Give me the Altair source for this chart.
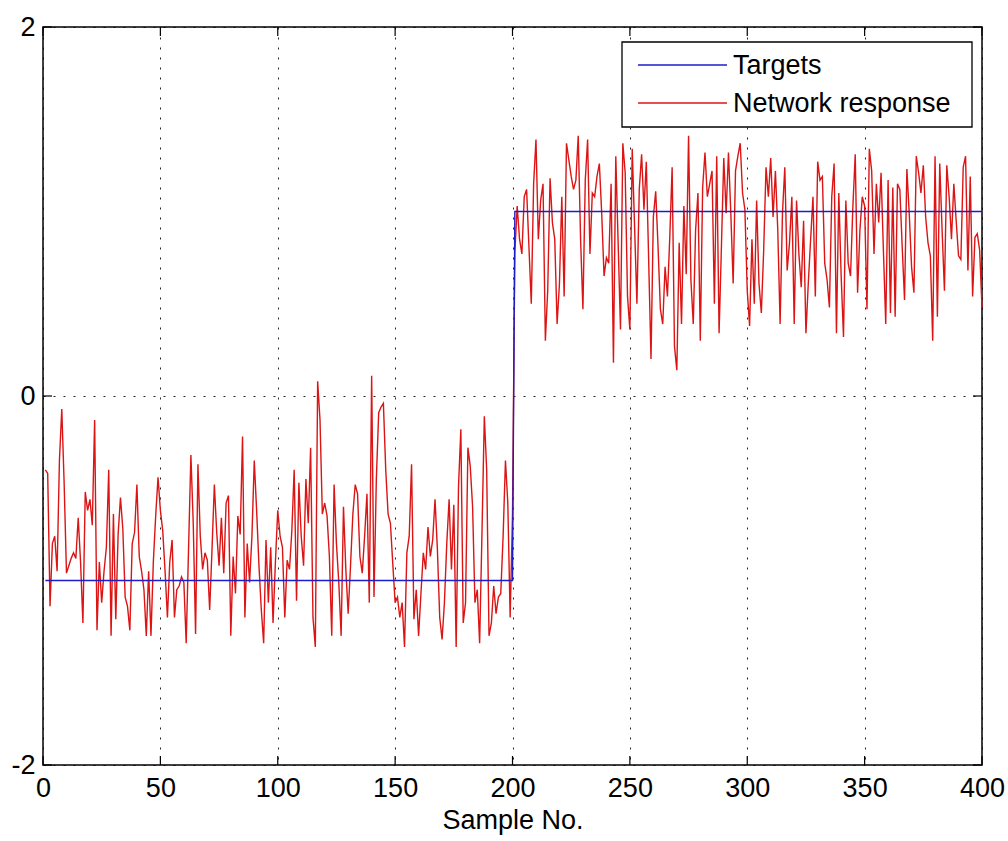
import altair as alt
import pandas as pd

# Network response, 50 samples per block
resp_001_050 = [-0.40, -0.42, -1.14, -0.80, -0.76, -0.95, -0.35, -0.07, -0.47, -0.96,
                -0.92, -0.88, -0.85, -0.88, -0.66, -0.90, -1.23, -0.52, -0.62, -0.56,
                -0.70, -0.13, -1.27, -0.90, -1.12, -0.95, -0.82, -0.40, -1.30, -0.64,
                -1.21, -0.75, -0.55, -0.72, -1.09, -1.14, -1.27, -0.80, -0.74, -0.48,
                -0.87, -0.95, -1.05, -1.30, -0.95, -1.30, -0.90, -0.65, -0.44, -0.62]
resp_051_100 = [-0.73, -0.95, -1.20, -0.90, -0.78, -1.20, -1.05, -1.03, -0.98, -1.01,
                -1.34, -0.83, -0.32, -0.69, -1.29, -0.37, -0.76, -0.94, -0.85, -0.89,
                -1.16, -0.83, -0.48, -0.74, -0.92, -0.66, -0.96, -0.58, -0.54, -1.30,
                -0.87, -1.07, -0.65, -0.75, -0.22, -1.20, -0.80, -1.01, -0.76, -0.35,
                -0.62, -0.92, -1.16, -1.34, -0.78, -1.12, -0.82, -1.23, -0.90, -0.62]
resp_101_150 = [-0.76, -0.82, -1.20, -0.89, -0.94, -0.73, -0.40, -1.11, -0.47, -0.76,
                -0.92, -0.45, -0.69, -0.28, -1.20, -1.36, 0.08, -0.13, -0.64, -0.58,
                -0.65, -0.87, -1.30, -0.48, -0.80, -1.01, -1.30, -0.60, -0.94, -1.18,
                -0.92, -0.64, -0.48, -0.53, -0.87, -0.96, -0.76, -0.53, -1.12, 0.11,
                -1.09, -0.45, -0.09, -0.06, -0.04, -0.40, -0.64, -0.69, -0.91, -1.12]
resp_151_200 = [-1.09, -1.20, -1.12, -1.36, -0.85, -0.76, -0.37, -1.21, -1.05, -1.30,
                -1.07, -0.85, -0.94, -0.71, -0.87, -0.78, -0.56, -0.83, -1.20, -1.32,
                -1.12, -0.80, -0.56, -0.94, -0.59, -1.36, -0.49, -0.18, -1.23, -1.12,
                -0.28, -0.38, -0.60, -1.12, -1.05, -1.34, -0.74, -0.11, -0.40, -1.30,
                -1.23, -1.03, -1.18, -1.09, -1.07, -0.76, -0.35, -0.58, -1.20, -0.64]
resp_201_250 = [0.78, 1.03, 0.85, 0.77, 1.08, 1.12, 0.81, 0.50, 1.15, 1.39,
                0.85, 1.06, 1.15, 0.30, 0.57, 1.18, 0.94, 0.85, 0.39, 0.61,
                1.08, 0.54, 1.37, 1.28, 1.19, 1.12, 1.17, 1.41, 0.85, 0.47,
                1.17, 1.39, 0.77, 1.10, 1.08, 1.19, 1.26, 0.99, 0.65, 0.75,
                0.72, 1.15, 0.18, 1.30, 0.83, 0.36, 1.37, 1.21, 0.54, 0.36]
resp_251_300 = [1.34, 0.92, 0.50, 1.12, 1.31, 1.01, 1.27, 0.74, 0.20, 0.97,
                1.11, 0.81, 0.47, 0.39, 0.70, 0.54, 0.86, 1.24, 0.27, 0.14,
                0.83, 0.39, 1.03, 0.66, 1.41, 0.63, 0.39, 0.90, 1.10, 0.30,
                1.13, 1.32, 1.08, 1.15, 1.22, 0.50, 1.30, 0.34, 0.81, 1.29,
                0.99, 1.32, 0.99, 0.61, 1.22, 1.30, 1.37, 1.10, 1.01, 0.57]
resp_301_350 = [0.38, 0.85, 0.50, 1.06, 0.61, 0.45, 0.79, 1.24, 1.08, 1.29,
                0.97, 1.22, 0.90, 0.39, 0.99, 1.24, 0.68, 0.83, 1.08, 0.39,
                1.06, 0.77, 0.59, 0.95, 0.34, 0.61, 0.85, 1.08, 0.54, 1.27,
                1.17, 1.19, 0.72, 0.63, 0.48, 1.08, 1.26, 0.34, 1.10, 0.65,
                0.32, 1.06, 0.72, 0.65, 1.03, 1.31, 0.56, 0.90, 1.08, 1.03]
resp_351_400 = [0.47, 1.34, 1.22, 0.77, 1.15, 0.94, 1.21, 0.79, 0.39, 1.17,
                0.45, 1.13, 0.43, 1.15, 1.12, 0.81, 0.52, 1.23, 0.99, 0.70,
                0.56, 1.30, 1.21, 1.10, 1.25, 0.97, 0.83, 0.76, 0.30, 1.30,
                0.43, 1.26, 0.90, 0.57, 1.25, 1.08, 0.85, 1.15, 0.95, 0.76,
                0.74, 1.24, 1.30, 0.68, 1.19, 0.54, 0.86, 0.88, 0.79, 0.48]

target_class_a = [-1.0] * 200
target_class_b = [1.0] * 200

x_ticks = [0, 50, 100, 150, 200, 250, 300, 350, 400]
y_ticks = [-2, 0, 2]
series_names = ["Targets", "Network response"]
series_colors = ["#1c1cc8", "#dc1414"]

response = (resp_001_050 + resp_051_100 + resp_101_150 + resp_151_200 +
            resp_201_250 + resp_251_300 + resp_301_350 + resp_351_400)
targets = target_class_a + target_class_b
samples = list(range(1, len(response) + 1))

df = pd.concat([
    pd.DataFrame({"sample": samples, "value": targets, "series": "Targets"}),
    pd.DataFrame({"sample": samples, "value": response, "series": "Network response"}),
])

W, H = 939, 738
FONT = "Liberation Sans"

xscale = alt.Scale(domain=[0, 400], nice=False, zero=False)
yscale = alt.Scale(domain=[-2, 2], nice=False, zero=False)
cscale = alt.Scale(domain=series_names, range=series_colors)

lines = alt.Chart(df).mark_line(strokeWidth=1.4).encode(
    x=alt.X("sample:Q", scale=xscale, title="Sample No.",
            axis=alt.Axis(values=x_ticks, grid=True, ticks=False, labelPadding=10,
                          titlePadding=6, labelFlush=False, format="d")),
    y=alt.Y("value:Q", scale=yscale, title=None,
            axis=alt.Axis(values=y_ticks, grid=True, ticks=False, labelPadding=8,
                          labelExpr="'' + datum.value")),
    color=alt.Color("series:N", scale=cscale, legend=None),
    detail="series:N",
)

red = lines.transform_filter(alt.datum.series == "Network response")
blue = lines.transform_filter(alt.datum.series == "Targets")

# inward MATLAB-style ticks
xt = pd.DataFrame({"t": x_ticks})
yt = pd.DataFrame({"t": y_ticks})
TL = 9
xb = alt.Chart(xt).mark_rule(color="black", strokeWidth=1.2).encode(
    x=alt.X("t:Q", scale=xscale), y=alt.value(H), y2=alt.value(H - TL))
xtop = alt.Chart(xt).mark_rule(color="black", strokeWidth=1.2).encode(
    x=alt.X("t:Q", scale=xscale), y=alt.value(0), y2=alt.value(TL))
yl = alt.Chart(yt).mark_rule(color="black", strokeWidth=1.2).encode(
    y=alt.Y("t:Q", scale=yscale), x=alt.value(0), x2=alt.value(TL))
yr = alt.Chart(yt).mark_rule(color="black", strokeWidth=1.2).encode(
    y=alt.Y("t:Q", scale=yscale), x=alt.value(W), x2=alt.value(W - TL))

# legend box (drawn as marks so the row spacing matches)
LX0, LX1, LY0, LY1 = 579, 929, 15, 100
ROW_Y = [38, 76]
legend_df = pd.DataFrame({"series": series_names})
box = alt.Chart(legend_df.head(1)).mark_rect(
    fill="white", stroke="black", strokeWidth=1.3
).encode(x=alt.value(LX0), x2=alt.value(LX1), y=alt.value(LY0), y2=alt.value(LY1))

legend_layers = []
for name, ry in zip(series_names, ROW_Y):
    sub = legend_df[legend_df.series == name]
    legend_layers.append(
        alt.Chart(sub).mark_rule(strokeWidth=1.5).encode(
            x=alt.value(595), x2=alt.value(684), y=alt.value(ry),
            color=alt.Color("series:N", scale=cscale, legend=None))
    )
    legend_layers.append(
        alt.Chart(sub).mark_text(
            align="left", baseline="middle", font=FONT, fontSize=27, color="black"
        ).encode(x=alt.value(690), y=alt.value(ry + 1), text="series:N")
    )

chart = alt.layer(red, blue, xb, xtop, yl, yr, box, *legend_layers).properties(
    width=W, height=H,
    autosize=alt.AutoSizeParams(type="none"),
    padding={"left": 43, "top": 27, "right": 26, "bottom": 76},
    background="white",
).configure_view(
    stroke="black", strokeWidth=1.5
).configure_axis(
    domain=False,
    gridColor="black", gridDash=[2, 8], gridWidth=1, gridOpacity=0.85,
    labelFont=FONT, labelFontSize=27, labelColor="black",
    titleFont=FONT, titleFontSize=27, titleColor="black", titleFontWeight="normal",
)

chart.save("out.html", embed_options={"renderer": "svg", "actions": False})
